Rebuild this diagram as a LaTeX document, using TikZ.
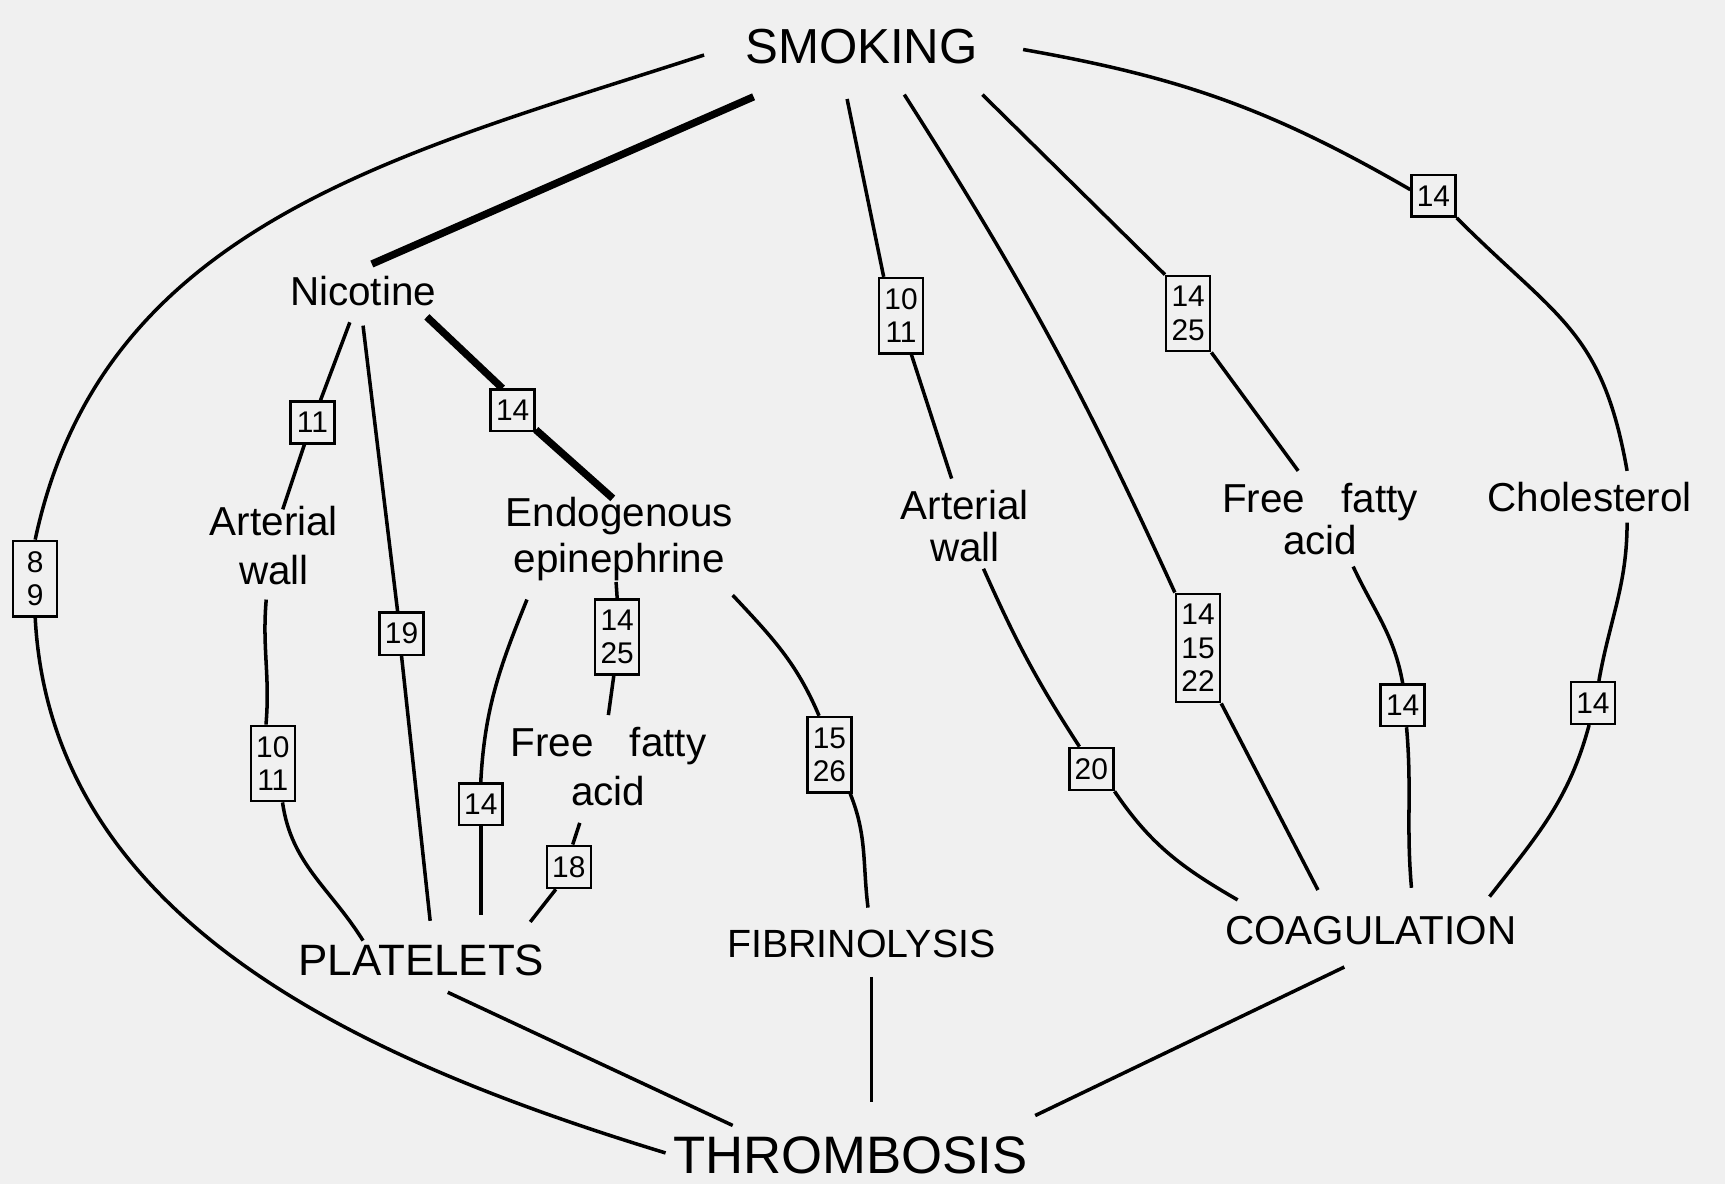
\documentclass[tikz,border=0pt]{standalone}
\usepackage{fontspec}
\setmainfont{Liberation Sans}
\usetikzlibrary{calc}

\begin{document}
\begin{tikzpicture}[x=0.11mm, y=0.11mm,
  every node/.style={inner sep=0pt},
  lab/.style={align=center, font=\fontsize{11.5}{13}\selectfont},
  caps/.style={font=\fontsize{#1}{#1}\selectfont},
  refbox/.style={draw, line width=0.7pt, inner xsep=1.5pt, inner ysep=3pt,
    minimum width=12.5pt, align=center, font=\fontsize{8.5}{9.5}\selectfont},
  link/.style={line width=1pt},
  heavy/.style={line width=2.1pt}]
  % Paper
  \fill[black!6] (0,0) rectangle (1568,-1076);
  % Main factors
  \node[caps=14] (smoking) at (783,-42) {SMOKING};
  \node[caps=15] (thromb) at (773,-1050) {THROMBOSIS};
  \node[caps=12.5] (platelets) at (383,-873) {PLATELETS};
  \node[caps=11.2] (fibrin) at (783,-858) {FIBRINOLYSIS};
  \node[caps=11.5] (coag) at (1246,-846) {COAGULATION};
  % Intermediate factors
  \node[lab] (nicotine) at (330,-265) {Nicotine};
  \node[lab, font=\fontsize{11.5}{14}\selectfont] (artL) at (249,-496) {Arterial\\wall};
  \node[lab] (endo) at (563,-490) {Endogenous\\epinephrine};
  \node[lab, font=\fontsize{11.5}{14}\selectfont] (ffaL) at (553,-697) {Free\hspace{0.9em}fatty\\acid};
  \node[lab, font=\fontsize{11.5}{12}\selectfont] (artR) at (877,-478) {Arterial\\wall};
  \node[lab, font=\fontsize{11.5}{12}\selectfont] (ffaR) at (1200,-472) {Free\hspace{0.9em}fatty\\acid};
  \node[lab] (chol) at (1445,-452) {Cholesterol};
  % Reference boxes
  \foreach \nm/\px/\py/\txt in {
    b89/32/-526/{8\\9}, b11/284/-384/11, b14a/466/-373/14, b19/365/-576/19,
    b1425a/561/-579/{14\\25}, b1011a/248/-694/{10\\11}, b14b/437/-731/14,
    b18/517/-788/18, b1526/754/-686/{15\\26}, b1011b/819/-287/{10\\11},
    b1425b/1080/-285/{14\\25}, b14c/1303/-178/14, b141522/1089/-589/{14\\15\\22},
    b20/992/-699/20, b14d/1275/-641/14, b14e/1448/-639/14}
    \node[refbox] (\nm) at (\px,\py) {\txt};
  % Outer arc
  \draw[link] ($(smoking)+(-143,-8)$) to[out=198, in=78] (b89.north);
  \draw[link] (b89.south) to[out=-87, in=163, looseness=0.95] ($(thromb)+(-168,2)$);
  % From smoking
  \draw[heavy] ($(smoking)+(-98,-46)$) -- ($(nicotine)+(8,25)$);
  \draw[link] ($(smoking)+(-13,-48)$) -- (b1011b.114);
  \draw[link] ($(smoking)+(39,-44)$) to[bend left=4] (b141522.north west);
  \draw[link] ($(smoking)+(110,-44)$) -- (b1425b.north west);
  \draw[link] ($(smoking)+(147,-3)$) to[out=-10, in=150] (b14c.165);
  % Nicotine branch
  \draw[link] ($(nicotine)+(-12,-28)$) -- (b11.70);
  \draw[link] (b11.-110) -- ($(artL)+(8,33)$);
  \draw[link] ($(artL)+(-7,-49)$) to[out=-95, in=85] (b1011a.100);
  \draw[link] (b1011a.-76) to[out=-82, in=122] ($(platelets)+(-53,18)$);
  \draw[link] ($(nicotine)+(0,-31)$) -- (b19.100);
  \draw[link] (b19.south) -- ($(platelets)+(8,36)$);
  \draw[heavy] ($(nicotine)+(58,-23)$) -- (b14a.115);
  \draw[heavy] (b14a.-40) -- ($(endo)+(-6,37)$);
  % Epinephrine branch
  \draw[link] ($(endo)+(-84,-55)$) to[out=-112, in=87] (b14b.north);
  \draw[link] (b14b.south) -- ($(platelets)+(54,41)$);
  \draw[link] ($(endo)+(-3,-39)$) -- (b1425a.north);
  \draw[link] (b1425a.-95) -- ($(ffaL)+(0,47)$);
  \draw[link] ($(ffaL)+(-26,-51)$) -- (b18.80);
  \draw[link] (b18.-120) -- ($(platelets)+(99,35)$);
  \draw[link] ($(endo)+(103,-51)$) to[out=-47, in=113] (b1526.105);
  \draw[link] (b1526.-62) to[out=-68, in=97] ($(fibrin)+(6,33)$);
  % Right side
  \draw[link] (b1011b.-75) -- ($(artR)+(-12,43)$);
  \draw[link] ($(artR)+(17,-39)$) to[out=-66, in=123] (b20.118);
  \draw[link] (b20.south east) to[out=-56, in=150] ($(coag)+(-121,28)$);
  \draw[link] (b141522.south east) -- ($(coag)+(-48,37)$);
  \draw[link] (b1425b.south east) -- ($(ffaR)+(-20,44)$);
  \draw[link] ($(ffaR)+(30,-43)$) to[out=-65, in=100] (b14d.north);
  \draw[link] (b14d.-80) to[out=-85, in=95] ($(coag)+(37,39)$);
  \draw[link] (b14c.south east) to[out=-45, in=100, looseness=1.2] ($(chol)+(34,24)$);
  \draw[link] ($(chol)+(34,-23)$) to[out=-90, in=80] (b14e.75);
  \draw[link] (b14e.-100) to[out=-105, in=52] ($(coag)+(108,31)$);
  % Into thrombosis
  \draw[link] ($(platelets)+(24,-29)$) -- ($(thromb)+(-107,27)$);
  \draw[link] ($(fibrin)+(9,-30)$) -- ($(thromb)+(19,48)$);
  \draw[link] ($(coag)+(-24,-33)$) -- ($(thromb)+(168,36)$);
\end{tikzpicture}
\end{document}
